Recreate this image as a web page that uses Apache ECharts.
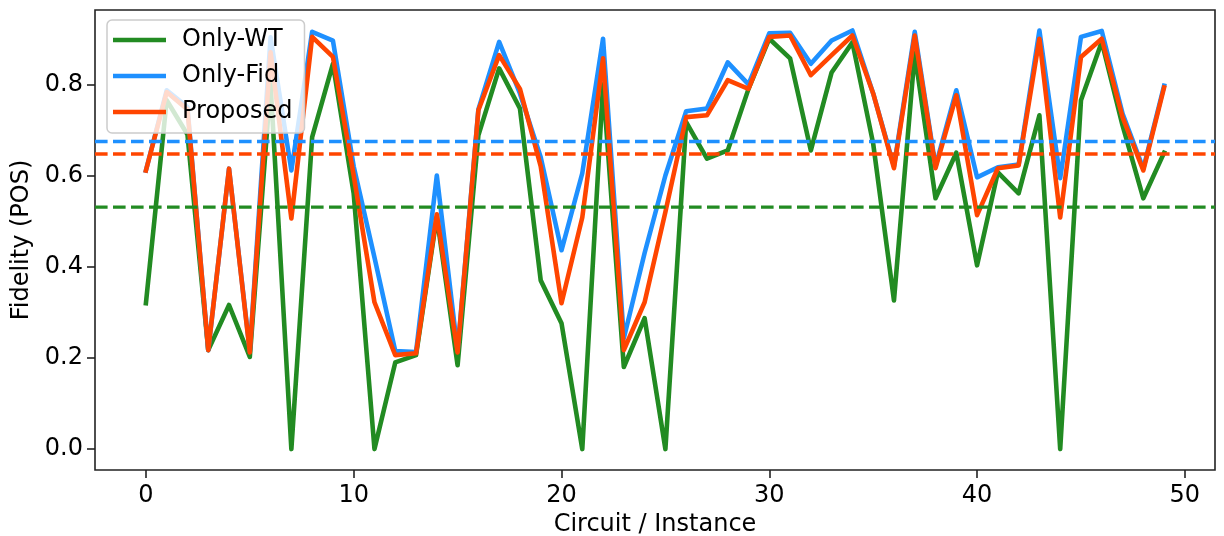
<!DOCTYPE html>
<html>
<head>
<meta charset="utf-8">
<script src="https://cdn.jsdelivr.net/npm/echarts@6/dist/echarts.min.js"></script>
<style>
  html, body { margin: 0; padding: 0; background: #ffffff; }
  #chart { width: 1224px; height: 536px; }
</style>
</head>
<body>
<div id="chart"></div>
<script>
// Circuit / instance index on the x axis
const instances = Array.from({ length: 50 }, (_, i) => i);

// Fidelity (POS) per circuit for each strategy
const onlyWT = [0.32, 0.765, 0.69, 0.217, 0.316, 0.202, 0.80, 0.0, 0.684, 0.845,
                0.56, 0.0, 0.19, 0.206, 0.51, 0.184, 0.688, 0.835, 0.747, 0.37,
                0.276, 0.0, 0.80, 0.18, 0.287, 0.0, 0.717, 0.637, 0.655, 0.79,
                0.90, 0.857, 0.655, 0.826, 0.892, 0.67, 0.326, 0.868, 0.55, 0.65,
                0.403, 0.607, 0.561, 0.732, 0.0, 0.765, 0.893, 0.71, 0.55, 0.65];
const onlyFid = [0.611, 0.787, 0.75, 0.217, 0.615, 0.215, 0.903, 0.611, 0.915, 0.896,
                 0.62, 0.42, 0.215, 0.213, 0.60, 0.215, 0.745, 0.893, 0.78, 0.64,
                 0.436, 0.605, 0.90, 0.243, 0.43, 0.60, 0.741, 0.747, 0.848, 0.80,
                 0.912, 0.913, 0.845, 0.896, 0.918, 0.78, 0.62, 0.915, 0.62, 0.787,
                 0.596, 0.618, 0.624, 0.918, 0.594, 0.904, 0.917, 0.736, 0.615, 0.797];
const proposed = [0.611, 0.783, 0.745, 0.217, 0.615, 0.212, 0.87, 0.506, 0.904, 0.86,
                  0.60, 0.322, 0.206, 0.21, 0.515, 0.212, 0.743, 0.864, 0.79, 0.62,
                  0.32, 0.508, 0.857, 0.217, 0.322, 0.52, 0.728, 0.732, 0.809, 0.79,
                  0.904, 0.907, 0.82, 0.864, 0.907, 0.78, 0.616, 0.907, 0.616, 0.776,
                  0.513, 0.616, 0.622, 0.90, 0.508, 0.86, 0.90, 0.728, 0.611, 0.793];

const seriesNames = ['Only-WT', 'Only-Fid', 'Proposed'];
const seriesColors = ['#228B22', '#1E90FF', '#FF4500'];
const seriesValues = [onlyWT, onlyFid, proposed];

const xTicks = [0, 10, 20, 30, 40, 50];
const yTicks = [0.0, 0.2, 0.4, 0.6, 0.8];

const X_MIN = -2.45, X_MAX = 51.45;
const Y_MIN = -0.0459, Y_MAX = 0.963;

const FONT = 'DejaVu Sans';
const FS = 24;
const mean = arr => arr.reduce((a, b) => a + b, 0) / arr.length;

const solidSeries = seriesValues.map((vals, k) => ({
  name: seriesNames[k],
  type: 'line',
  data: instances.map((x, i) => [x, vals[i]]),
  symbol: 'none',
  z: 2 + k,
  lineStyle: { color: seriesColors[k], width: 4.6, join: 'round', cap: 'square' },
  itemStyle: { color: seriesColors[k] },
  emphasis: { disabled: true }
}));

// Average of each strategy as a dashed horizontal line across the plot
const meanSeries = seriesValues.map((vals, k) => {
  const m = mean(vals);
  return {
    name: seriesNames[k] + ' mean',
    type: 'line',
    data: [[X_MIN, m], [X_MAX, m]],
    symbol: 'none',
    z: 6,
    lineStyle: { color: seriesColors[k], width: 3.4, type: [12.6, 5.4] },
    emphasis: { disabled: true }
  };
});

const tickStyle = { color: '#222222', width: 1.6 };

const chart = echarts.init(document.getElementById('chart'), null, { renderer: 'canvas' });
chart.setOption({
  animation: false,
  backgroundColor: '#ffffff',
  grid: {
    left: 95, right: 9, top: 10, bottom: 66,
    outerBoundsMode: 'none',
    containLabel: false,
    show: true, borderColor: '#222222', borderWidth: 1.6, backgroundColor: 'transparent'
  },
  legend: {
    data: seriesNames,
    orient: 'vertical',
    left: 107, top: 20,
    padding: [8, 12, 9, 6],
    icon: 'rect',
    itemWidth: 53, itemHeight: 4.6, itemGap: 12,
    backgroundColor: 'rgba(255,255,255,0.8)',
    borderColor: '#cccccc', borderWidth: 1.5, borderRadius: 5,
    textStyle: { fontFamily: FONT, fontSize: FS, color: '#000000', padding: [0, 0, 0, 11], lineHeight: 23 },
    z: 10
  },
  xAxis: {
    type: 'value',
    min: X_MIN, max: X_MAX,
    name: 'Circuit / Instance',
    nameLocation: 'middle', nameGap: 38,
    nameTextStyle: { fontFamily: FONT, fontSize: FS, color: '#000000' },
    axisLine: { show: false, onZero: false },
    splitLine: { show: false },
    axisTick: { show: true, customValues: xTicks, length: 8, lineStyle: tickStyle },
    axisLabel: {
      customValues: xTicks, margin: 14,
      fontFamily: FONT, fontSize: FS, color: '#000000',
      formatter: v => String(v)
    }
  },
  yAxis: {
    type: 'value',
    min: Y_MIN, max: Y_MAX,
    name: 'Fidelity (POS)',
    nameLocation: 'middle', nameGap: 54, nameRotate: 90,
    nameTextStyle: { fontFamily: FONT, fontSize: FS, color: '#000000' },
    axisLine: { show: false, onZero: false },
    splitLine: { show: false },
    axisTick: { show: true, customValues: yTicks, length: 8, lineStyle: tickStyle },
    axisLabel: {
      customValues: yTicks, margin: 12,
      fontFamily: FONT, fontSize: FS, color: '#000000',
      formatter: v => v.toFixed(1)
    }
  },
  series: [...solidSeries, ...meanSeries]
});
</script>
</body>
</html>
